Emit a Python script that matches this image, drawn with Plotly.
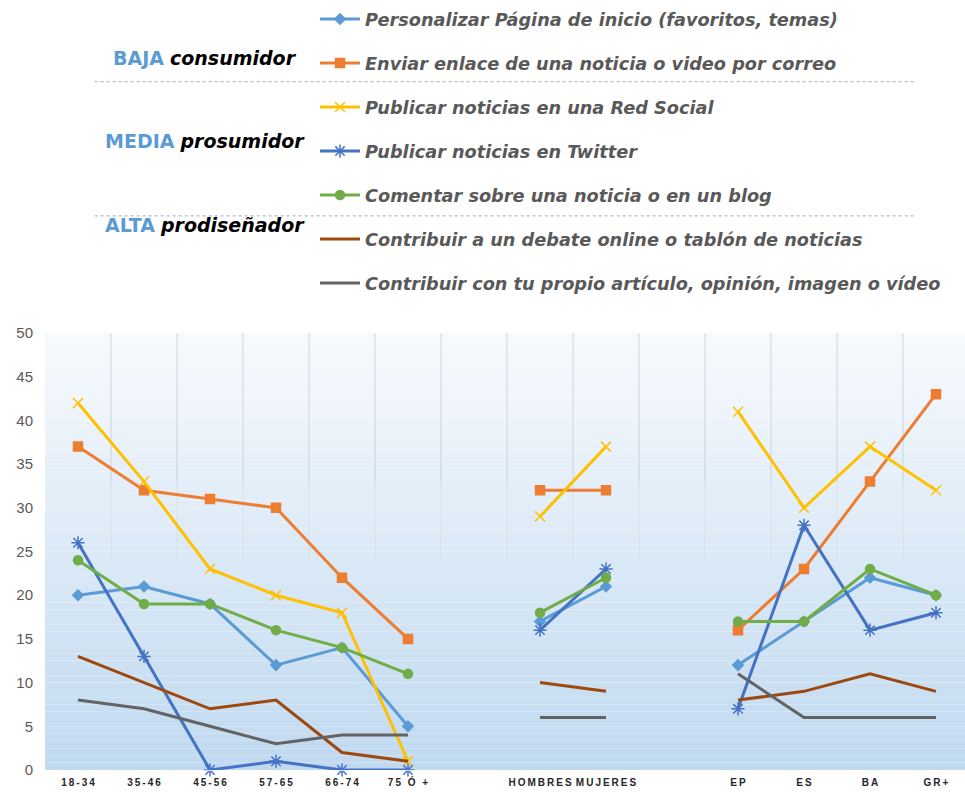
import plotly.graph_objects as go

# Categories (blank slots separate the age, sex and education groups)
categories = ["18-34", "35-46", "45-56", "57-65", "66-74", "75 Ó +", "",
              "HOMBRES", "MUJERES", "", "EP", "ES", "BA", "GR+"]

series_names = [
    "Personalizar Página de inicio (favoritos, temas)",
    "Enviar enlace de una noticia o video por correo",
    "Publicar noticias en una Red Social",
    "Publicar noticias en Twitter",
    "Comentar sobre una noticia o en un blog",
    "Contribuir a un debate online o tablón de noticias",
    "Contribuir con tu propio artículo, opinión, imagen o vídeo",
]

personalizar = [20, 21, 19, 12, 14, 5, None, 17, 21, None, 12, 17, 22, 20]
enviar = [37, 32, 31, 30, 22, 15, None, 32, 32, None, 16, 23, 33, 43]
red_social = [42, 33, 23, 20, 18, 1, None, 29, 37, None, 41, 30, 37, 32]
twitter = [26, 13, 0, 1, 0, 0, None, 16, 23, None, 7, 28, 16, 18]
comentar = [24, 19, 19, 16, 14, 11, None, 18, 22, None, 17, 17, 23, 20]
debate = [13, 10, 7, 8, 2, 1, None, 10, 9, None, 8, 9, 11, 9]
articulo = [8, 7, 5, 3, 4, 4, None, 6, 6, None, 11, 6, 6, 6]

y_ticks = [0, 5, 10, 15, 20, 25, 30, 35, 40, 45, 50]

colors = ["#5b9bd5", "#ed7d31", "#ffc000", "#4472c4", "#70ad47", "#9e480e", "#636363"]
symbols = ["diamond", "square", "x-thin-open", "asterisk-open", "circle", None, None]
sizes = [8, 9, 10, 11, 9, 0, 0]

values = [personalizar, enviar, red_social, twitter, comentar, debate, articulo]
x_pos = list(range(len(categories)))


def spaced(label):
    # widen the bold axis labels with thin spaces between characters
    return "\u2009".join(label) if label else ""


fig = go.Figure()
for i, (name, vals) in enumerate(zip(series_names, values)):
    if symbols[i]:
        mode = "lines+markers"
        marker = dict(symbol=symbols[i], size=sizes[i], color=colors[i],
                      line=dict(color=colors[i], width=1.5))
    else:
        mode = "lines"
        marker = None
    fig.add_trace(go.Scatter(
        x=x_pos, y=vals, name=name, mode=mode,
        line=dict(color=colors[i], width=3),
        marker=marker, connectgaps=False, cliponaxis=False,
        legendgroup=f"g{i}",
    ))

# soft white-to-blue gradient behind the plot area
shapes = []
n_bands = 60
top_rgb = (247, 250, 253)
bot_rgb = (192, 217, 240)
for k in range(n_bands):
    t = k / (n_bands - 1)
    c = tuple(round(top_rgb[j] + (bot_rgb[j] - top_rgb[j]) * t) for j in range(3))
    shapes.append(dict(type="rect", xref="paper", yref="paper",
                       x0=0, x1=1, y0=1 - (k + 1) / n_bands, y1=1 - k / n_bands,
                       fillcolor=f"rgb{c}", line=dict(width=0), layer="below"))

# faint category separators, fading downward
for b in range(len(categories)):
    xb = b + 0.5
    shapes.append(dict(type="line", xref="x", yref="paper", x0=xb, x1=xb,
                       y0=0.66, y1=1, line=dict(color="rgba(175,180,190,0.5)", width=1),
                       layer="below"))
    shapes.append(dict(type="line", xref="x", yref="paper", x0=xb, x1=xb,
                       y0=0.48, y1=0.66, line=dict(color="rgba(175,180,190,0.2)", width=1),
                       layer="below"))

# dotted separators between the participation levels
for yp in (1.575, 1.268):
    shapes.append(dict(type="line", xref="paper", yref="paper", x0=0.054, x1=0.946,
                       y0=yp, y1=yp, line=dict(color="#9aaac0", width=1, dash="dot")))

ann_font = dict(family="DejaVu Sans, Verdana, sans-serif", size=19, color="#000000")
levels = [("BAJA", "consumidor", 58), ("MEDIA", "prosumidor", 141), ("ALTA", "prodiseñador", 225)]
annotations = []
for lvl, role, py in levels:
    annotations.append(dict(
        text=f'<span style="color:#5b9bd5"><b>{lvl}</b></span> <b><i>{role}</i></b>',
        xref="paper", yref="paper", x=(205 - 45) / 920, y=(770 - py) / 437,
        xanchor="center", yanchor="middle", showarrow=False, font=ann_font,
    ))

fig.update_layout(
    width=965, height=792,
    margin=dict(l=45, r=0, t=333, b=22),
    paper_bgcolor="white", plot_bgcolor="rgba(0,0,0,0)",
    shapes=shapes, annotations=annotations,
    showlegend=True,
    legend=dict(
        x=(315 - 45) / 920, y=(770 - 1) / 437, xanchor="left", yanchor="top",
        font=dict(family="DejaVu Sans, Verdana, sans-serif", size=17.7, color="#595959",
                  style="italic", weight="bold"),
        traceorder="grouped", tracegroupgap=18, bgcolor="rgba(0,0,0,0)",
        itemwidth=40,
    ),
    xaxis=dict(
        range=[-0.5, -0.5 + 920 / 66], tickmode="array", tickvals=x_pos,
        ticktext=[spaced(c) for c in categories], showgrid=False, zeroline=False,
        showline=True, linecolor="rgba(255,255,255,0.8)", linewidth=1,
        tickfont=dict(family="Liberation Sans, Arial, sans-serif", size=10,
                      color="#262626", weight="bold"),
        ticklabelstandoff=3,
    ),
    yaxis=dict(
        range=[0, 50], tickmode="array", tickvals=y_ticks, showgrid=False,
        zeroline=False, showline=False,
        tickfont=dict(family="Liberation Sans, Arial, sans-serif", size=15, color="#595959"),
        ticklabelstandoff=11,
    ),
)

fig.write_html("out.html")
